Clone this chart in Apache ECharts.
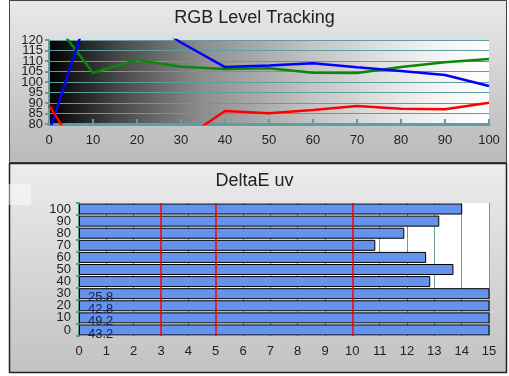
<!DOCTYPE html>
<html>
<head>
<meta charset="utf-8">
<script src="https://cdn.jsdelivr.net/npm/echarts@6/dist/echarts.min.js"></script>
<style>
html,body{margin:0;padding:0;background:#fff;}
#main{width:509px;height:376px;}
</style>
</head>
<body>
<div id="main"></div>
<script>
// top chart: RGB level tracking (x = stimulus %)
var levels = [0, 10, 20, 30, 40, 50, 60, 70, 80, 90, 100];
var redLevel = [89, 56, 62, 72, 86.2, 85.1, 86.7, 88.6, 87.3, 87, 90.1];
var greenLevel = [132, 104.4, 110.5, 107.3, 106.2, 106.5, 104.4, 104.3, 107.1, 109.4, 111];
var blueLevel = [76, 140, 132, 118.8, 107.1, 107.8, 108.9, 107, 105.2, 103.3, 98.1];

// bottom chart: DeltaE uv per level
var deCategories = ['0', '10', '20', '30', '40', '50', '60', '70', '80', '90', '100'];
var deValues = [43.2, 49.2, 42.8, 25.8, 12.85, 13.7, 12.7, 10.84, 11.9, 13.18, 14.02];
var deLimits = [3, 5, 10];

var teal = '#5f9ea0';
var font = 'Liberation Sans, Arial, sans-serif';

function pairs(xs, ys) {
    return xs.map(function (x, i) { return [x, ys[i]]; });
}

// the 80..120 labels are packed tighter than their height, so they are
// split over two axes (tens / fives) to stop echarts from dropping any
function levelAxis(showTens, withLines) {
    return {
        gridIndex: 0, type: 'value', min: 80, max: 120, interval: 5, position: 'left',
        axisLine: { show: withLines, lineStyle: { color: teal, width: 2 } },
        axisTick: { show: withLines, length: 4, lineStyle: { color: teal, width: 2 } },
        axisLabel: {
            fontFamily: font, fontSize: 13, color: '#222', margin: 6,
            showMinLabel: true, showMaxLabel: true,
            formatter: function (v) { return ((v % 10 === 0) === showTens) ? String(v) : ''; }
        },
        splitLine: { show: withLines, lineStyle: { color: teal, width: 1 } }
    };
}

var chart = echarts.init(document.getElementById('main'));
chart.setOption({
    animation: false,
    backgroundColor: '#fff',
    graphic: [
        {
            type: 'rect', z: -10,
            shape: { x: 9.5, y: 0.5, width: 497, height: 162 },
            style: {
                fill: { type: 'linear', x: 0, y: 0, x2: 0, y2: 1, colorStops: [
                    { offset: 0, color: '#e9e9e9' }, { offset: 1, color: '#b9b9b9' }] },
                stroke: '#444', lineWidth: 1
            }
        },
        {
            type: 'rect', z: -10,
            shape: { x: 9.5, y: 163.5, width: 497, height: 209 },
            style: {
                fill: { type: 'linear', x: 0, y: 0, x2: 0, y2: 1, colorStops: [
                    { offset: 0, color: '#ececec' }, { offset: 1, color: '#c2c2c2' }] },
                stroke: '#222', lineWidth: 1.5
            }
        },
        {
            type: 'rect', z: -9,
            shape: { x: 0, y: 184, width: 31, height: 21 },
            style: { fill: 'rgba(255,255,255,0.45)' }
        }
    ],
    title: [
        {
            text: 'RGB Level Tracking', left: 'center', top: 4,
            textStyle: { fontFamily: font, fontSize: 18, fontWeight: 'normal', color: '#222' }
        },
        {
            text: 'DeltaE uv', left: 'center', top: 167,
            textStyle: { fontFamily: font, fontSize: 18, fontWeight: 'normal', color: '#222' }
        }
    ],
    grid: [
        {
            left: 49, top: 40, width: 440, height: 84,
            show: true, borderWidth: 0,
            backgroundColor: {
                type: 'linear', x: 0, y: 0, x2: 1, y2: 0,
                colorStops: [
                    { offset: 0, color: '#000' },
                    { offset: 0.15, color: '#454545' },
                    { offset: 0.35, color: '#8e8e8e' },
                    { offset: 0.6, color: '#c4c4c4' },
                    { offset: 0.85, color: '#f0f0f0' },
                    { offset: 1, color: '#fff' }
                ]
            }
        },
        {
            left: 79, top: 203, width: 410, height: 133,
            show: true, borderWidth: 0, backgroundColor: '#fff'
        }
    ],
    xAxis: [
        {
            gridIndex: 0, type: 'value', min: 0, max: 100, interval: 10,
            axisLine: { lineStyle: { color: teal, width: 3 } },
            axisTick: { inside: true, length: 5, lineStyle: { color: teal, width: 2 } },
            axisLabel: { fontFamily: font, fontSize: 13, color: '#222', margin: 10 },
            splitLine: { show: false }
        },
        {
            gridIndex: 1, type: 'value', min: 0, max: 15, interval: 1,
            axisLine: { lineStyle: { color: '#5a9a8c', width: 2 } },
            axisTick: { inside: true, length: 3, lineStyle: { color: '#5a9a8c', width: 2 } },
            axisLabel: { fontFamily: font, fontSize: 13, color: '#222', margin: 9 },
            splitLine: { show: true, lineStyle: { color: '#6a9e96', width: 1 } }
        }
    ],
    yAxis: [
        levelAxis(true, true),
        {
            gridIndex: 1, type: 'category', data: deCategories,
            axisLine: { show: true, lineStyle: { color: '#5a9a8c', width: 2 } },
            axisTick: { show: true, length: 3, alignWithLabel: false, lineStyle: { color: '#5a9a8c', width: 2 } },
            axisLabel: { interval: 0, fontFamily: font, fontSize: 13, color: '#222', margin: 8 },
            splitLine: { show: false }
        },
        levelAxis(false, false)
    ],
    series: [
        {
            type: 'line', xAxisIndex: 0, yAxisIndex: 0, data: pairs(levels, greenLevel),
            symbol: 'none', clip: true, lineStyle: { color: '#0a880a', width: 2.5 }
        },
        {
            type: 'line', xAxisIndex: 0, yAxisIndex: 0, data: pairs(levels, blueLevel),
            symbol: 'none', clip: true, lineStyle: { color: '#0000ff', width: 2.5 }
        },
        {
            type: 'line', xAxisIndex: 0, yAxisIndex: 0, data: pairs(levels, redLevel),
            symbol: 'none', clip: true, lineStyle: { color: '#ff0000', width: 2.5 }
        },
        {
            type: 'bar', xAxisIndex: 1, yAxisIndex: 1, barWidth: 11, clip: true,
            itemStyle: { color: '#6393ec', borderColor: '#000', borderWidth: 1 },
            data: deValues.map(function (v) {
                return {
                    value: v,
                    label: {
                        show: v > 15, position: 'insideLeft', offset: [4, 4],
                        formatter: function (p) { return p.value.toFixed(1); },
                        fontFamily: font, fontSize: 13, color: '#1b2050'
                    }
                };
            }),
            markLine: {
                silent: true, symbol: 'none', label: { show: false },
                lineStyle: { color: '#ff0000', width: 1.5, type: 'solid' },
                data: deLimits.map(function (v) { return { xAxis: v }; })
            }
        }
    ]
});
</script>
</body>
</html>
